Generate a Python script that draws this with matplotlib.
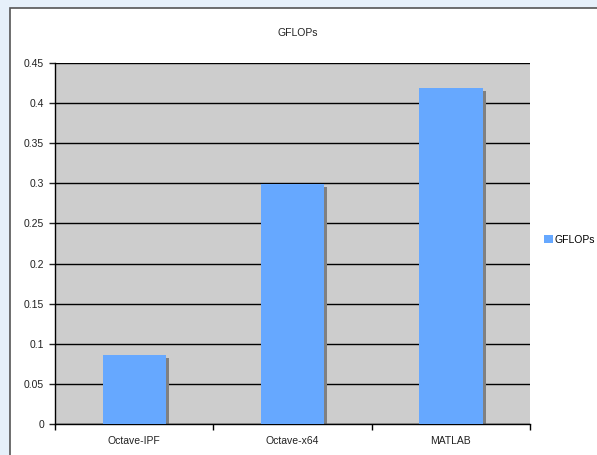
import matplotlib.pyplot as plt
import matplotlib.transforms as mtransforms
from matplotlib.patches import Rectangle

categories = ["Octave-IPF", "Octave-x64", "MATLAB"]
gflops = [0.086, 0.299, 0.419]
yticks = [0, 0.05, 0.1, 0.15, 0.2, 0.25, 0.3, 0.35, 0.4, 0.45]
ytick_labels = ["0", "0.05", "0.1", "0.15", "0.2", "0.25", "0.3", "0.35", "0.4", "0.45"]

plt.rcParams['font.family'] = ['Liberation Sans', 'DejaVu Sans']

W, H = 597, 455
fig = plt.figure(figsize=(W / 100, H / 100), dpi=100, facecolor='#E6F0FA')

# chart frame (white area with dark border on left/top)
fig.patches.append(Rectangle((10 / W, -0.1), 1, 1.1 - 8 / H, transform=fig.transFigure,
                             facecolor='white', edgecolor='#555555', lw=1.2, zorder=-10))

ax = fig.add_axes([55 / W, (H - 424) / H, 475 / W, 361 / H])
ax.set_facecolor('#CDCDCD')

x = list(range(len(categories)))
shadow = ax.transData + mtransforms.ScaledTranslation(3 / 100, -3 / 100, fig.dpi_scale_trans)
shadow_bars = ax.bar(x, gflops, width=0.4, color='#808080', zorder=2)
for p in shadow_bars:
    p.set_transform(shadow)
ax.bar(x, gflops, width=0.4, color='#66A8FF', zorder=3, label='GFLOPs')

ax.set_xlim(-0.5, 2.5)
ax.set_ylim(0, 0.45)
ax.set_yticks(yticks)
ax.set_yticklabels(ytick_labels)
ax.yaxis.grid(True, color='black', lw=1)
ax.set_axisbelow(True)

ax.set_xticks(x)
ax.set_xticklabels(categories)
ax.set_xticks([-0.5, 0.5, 1.5, 2.5], minor=True)
ax.tick_params(axis='x', which='major', length=0, pad=9, labelsize=7.5, colors='#222222')
ax.tick_params(axis='x', which='minor', length=4, width=1, direction='out')
ax.tick_params(axis='y', length=4, width=1, direction='out', labelsize=7.5, colors='#222222', pad=4)

for side in ['top', 'right']:
    ax.spines[side].set_visible(False)
for side in ['left', 'bottom']:
    ax.spines[side].set_color('black')
    ax.spines[side].set_linewidth(1)

fig.text(298 / W, 1 - 33 / H, "GFLOPs", ha='center', va='center', fontsize=7.5, color='#222222')

fig.legend(loc='center left', bbox_to_anchor=(535 / W, 1 - 240 / H), frameon=False,
           handlelength=0.8, handleheight=0.8, handletextpad=0.2, fontsize=7.5)

fig.savefig('out.png', dpi=100, facecolor=fig.get_facecolor())
